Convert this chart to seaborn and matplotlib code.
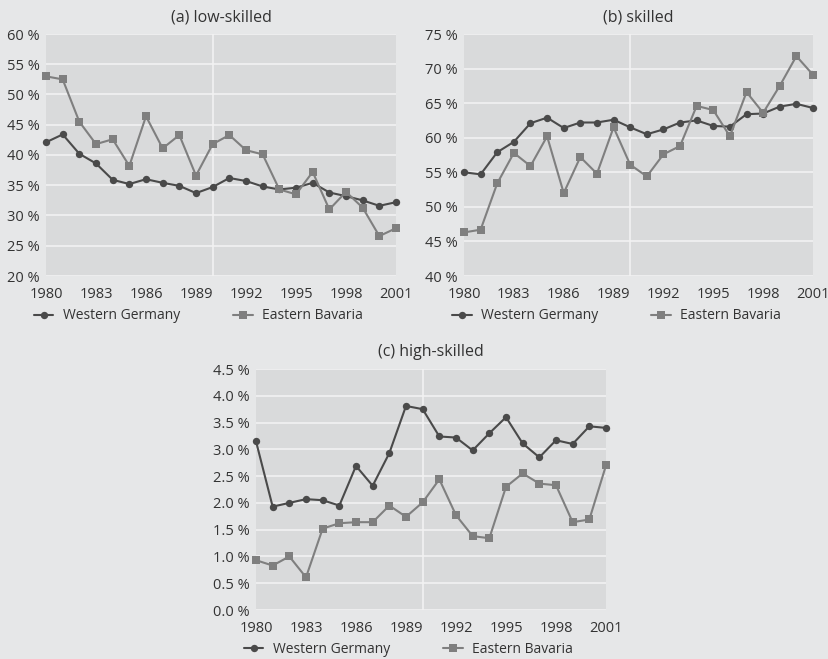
import numpy as np
import pandas as pd
import matplotlib
matplotlib.use("Agg")
import matplotlib.pyplot as plt
import seaborn as sns

# years shown on every panel
years = list(range(1980, 2002))
xticks = [1980, 1983, 1986, 1989, 1992, 1995, 1998, 2001]

# (a) low-skilled, share in %
low_west = [42.1, 43.4, 40.2, 38.6, 35.9, 35.2, 36.0, 35.4, 34.9, 33.7, 34.7,
            36.2, 35.7, 34.8, 34.3, 34.6, 35.4, 33.8, 33.2, 32.5, 31.6, 32.2]
low_east = [53.0, 52.5, 45.5, 41.8, 42.6, 38.2, 46.4, 41.1, 43.3, 36.6, 41.8,
            43.3, 40.8, 40.1, 34.3, 33.5, 37.2, 31.0, 33.9, 31.3, 26.6, 27.9]

# (b) skilled
sk_west = [55.0, 54.7, 57.9, 59.4, 62.1, 62.9, 61.4, 62.2, 62.2, 62.6, 61.5,
           60.5, 61.2, 62.2, 62.5, 61.7, 61.6, 63.4, 63.5, 64.5, 64.9, 64.3]
sk_east = [46.3, 46.7, 53.4, 57.8, 55.9, 60.2, 52.0, 57.2, 54.8, 61.5, 56.1,
           54.4, 57.6, 58.8, 64.6, 64.0, 60.2, 66.6, 63.6, 67.5, 71.8, 69.1]

# (c) high-skilled
hi_west = [3.15, 1.93, 2.00, 2.07, 2.05, 1.95, 2.69, 2.32, 2.93, 3.81, 3.75,
           3.24, 3.22, 2.98, 3.30, 3.60, 3.11, 2.85, 3.17, 3.10, 3.43, 3.40]
hi_east = [0.93, 0.83, 1.00, 0.61, 1.52, 1.62, 1.64, 1.64, 1.95, 1.74, 2.01,
           2.44, 1.77, 1.38, 1.34, 2.30, 2.55, 2.36, 2.33, 1.64, 1.69, 2.70]

regions = ["Western Germany", "Eastern Bavaria"]

bg = "#e6e7e8"
panel_bg = "#d9dadb"
sns.set_style("white", {"axes.facecolor": panel_bg, "figure.facecolor": bg})
plt.rcParams["font.family"] = ["Open Sans", "DejaVu Sans"]
plt.rcParams["text.color"] = "#333333"

palette = {"Western Germany": "#4a4a4a", "Eastern Bavaria": "#7f7f7f"}
markers = {"Western Germany": "o", "Eastern Bavaria": "s"}

fig = plt.figure(figsize=(8.29, 6.59), dpi=100)
W, H = 829, 659


def make_ax(left, top, right, bottom):
    return fig.add_axes([left / W, 1 - bottom / H, (right - left) / W, (bottom - top) / H])


def panel(ax, west, east, title, ylim, ystep, fmt):
    df = pd.DataFrame({
        "year": years * 2,
        "share": west + east,
        "region": [regions[0]] * len(years) + [regions[1]] * len(years),
    })
    sns.lineplot(data=df, x="year", y="share", hue="region", style="region",
                 palette=palette, markers=markers, dashes=False, markersize=5.3,
                 markeredgewidth=0, linewidth=1.5, ax=ax, clip_on=False, zorder=3)
    ax.set_xlim(1980, 2001)
    ax.set_ylim(*ylim)
    yt = np.arange(ylim[0], ylim[1] + ystep / 2, ystep)
    ax.set_yticks(yt)
    ax.set_yticklabels([fmt.format(v) for v in yt])
    ax.set_xticks(xticks)
    ax.grid(axis="y", color="#f2f2f2", linewidth=1.2)
    ax.axvline(1990, color="#f2f2f2", linewidth=1.2, zorder=1)
    ax.set_axisbelow(True)
    for s in ax.spines.values():
        s.set_visible(False)
    ax.tick_params(length=0, labelsize=10.5, colors="#333333")
    ax.tick_params(axis="x", pad=8)
    ax.tick_params(axis="y", pad=4.5)
    ax.set_xlabel("")
    ax.set_ylabel("")
    ax.set_title(title, fontsize=11.5, color="#333333", pad=9)
    ax.legend(loc="center left", bbox_to_anchor=(-0.05, -0.165), ncol=2, frameon=False,
              fontsize=10, handlelength=1.4, handletextpad=0.7, columnspacing=3.8,
              borderaxespad=0)


ax_a = make_ax(46, 34, 396, 276)
panel(ax_a, low_west, low_east, "(a) low-skilled", (20, 60), 5, "{:.0f} %")

ax_b = make_ax(464, 34, 813, 276)
panel(ax_b, sk_west, sk_east, "(b) skilled", (40, 75), 5, "{:.0f} %")

ax_c = make_ax(256, 369, 606, 610)
panel(ax_c, hi_west, hi_east, "(c) high-skilled", (0, 4.5), 0.5, "{:.1f} %")

fig.savefig("out.png", dpi=100, facecolor=bg)
